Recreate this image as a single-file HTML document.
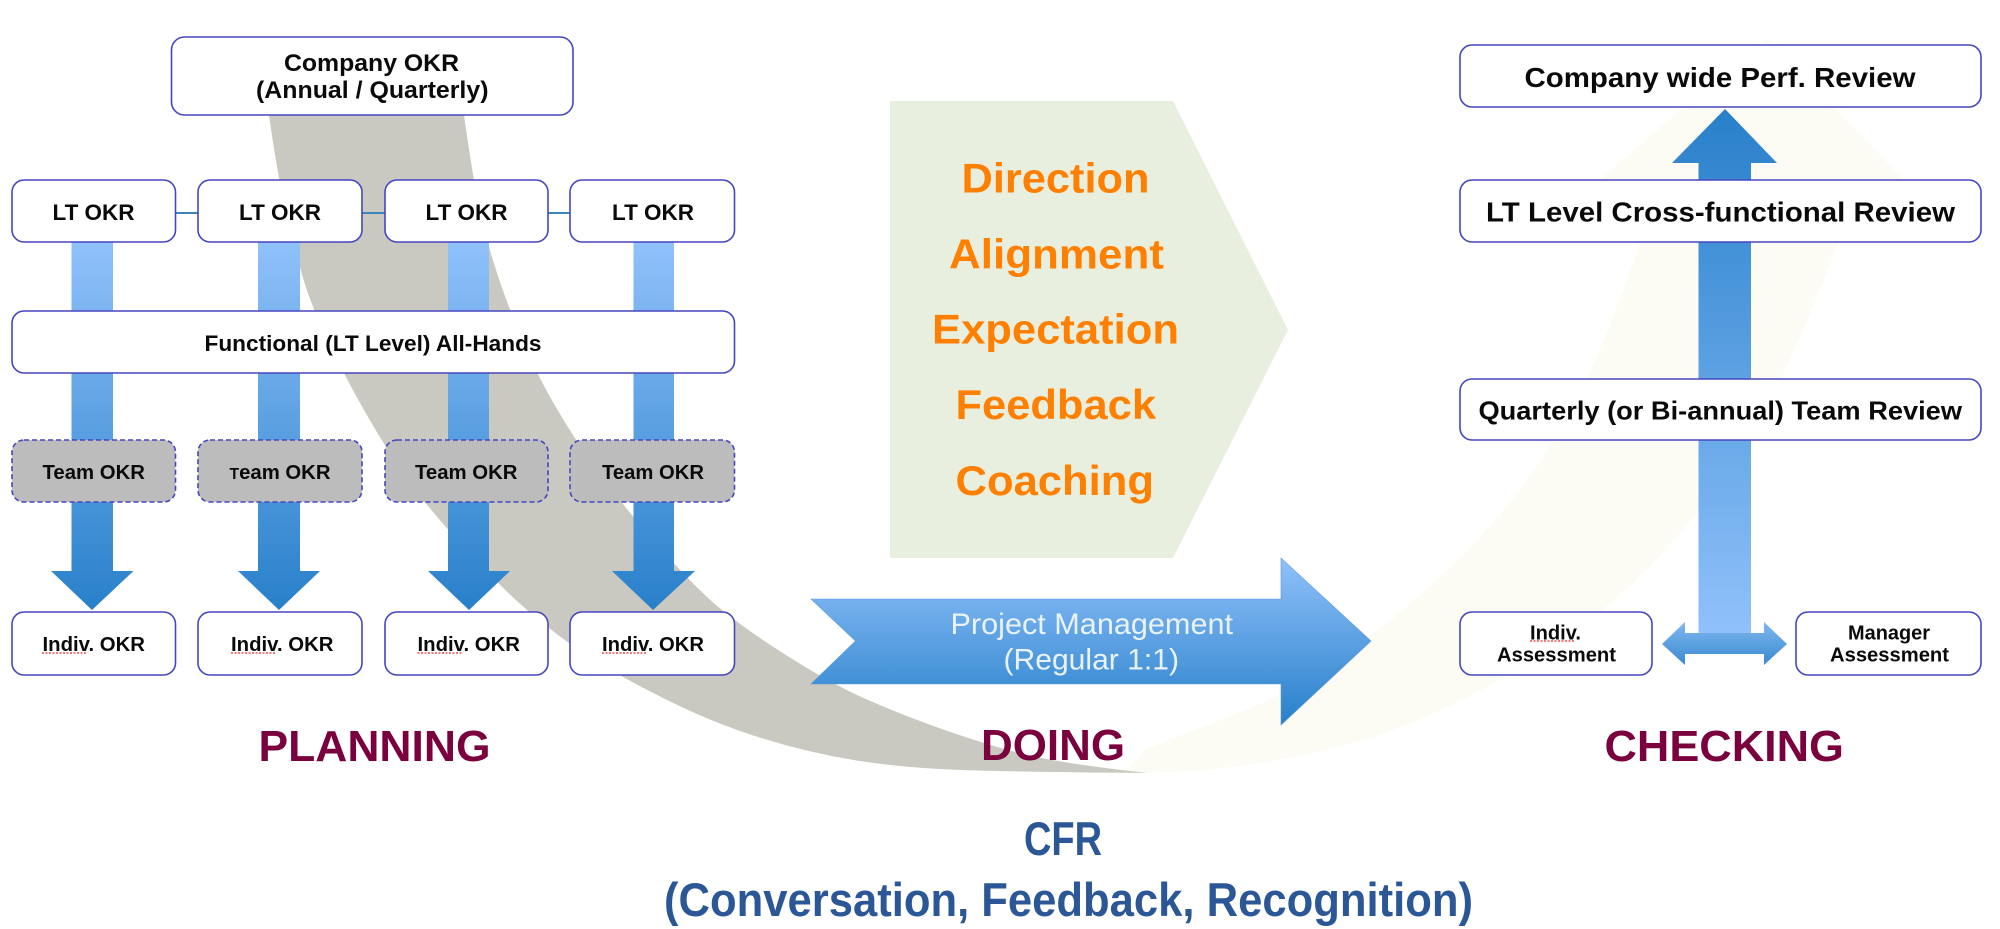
<!DOCTYPE html>
<html><head><meta charset="utf-8"><style>
html,body{margin:0;padding:0;background:#fff;width:2000px;height:929px;overflow:hidden}
svg{display:block}
text{font-family:"Liberation Sans",sans-serif;font-weight:bold;fill:#0a0a0a}
.b{fill:#fff;stroke:#4646c0;stroke-width:1.6}
.t{fill:#bcbcbc;stroke:#4646c0;stroke-width:1.6;stroke-dasharray:5 3}
.o{font-size:42px;fill:#ff8000}
.h{font-size:44px;fill:#7a003e}
.c{font-size:47px;fill:#2b5797}
.s{font-size:22px}
.m{font-size:20px}
.q{stroke:#f02828;stroke-width:1.3;stroke-dasharray:2 1.5;fill:none}
</style></head><body>
<svg width="2000" height="929" viewBox="0 0 2000 929" xmlns="http://www.w3.org/2000/svg">
<defs>
<linearGradient id="d" gradientUnits="userSpaceOnUse" x1="0" y1="242" x2="0" y2="610"><stop offset="0" stop-color="#90c1fa"/><stop offset="1" stop-color="#2880ca"/></linearGradient>
<linearGradient id="u" gradientUnits="userSpaceOnUse" x1="0" y1="109" x2="0" y2="633"><stop offset="0" stop-color="#2880ca"/><stop offset="1" stop-color="#90c1fa"/></linearGradient>
<linearGradient id="r" gradientUnits="userSpaceOnUse" x1="0" y1="558" x2="0" y2="725"><stop offset="0" stop-color="#90c1fa"/><stop offset="1" stop-color="#2880ca"/></linearGradient>
<linearGradient id="w" gradientUnits="userSpaceOnUse" x1="0" y1="622" x2="0" y2="665"><stop offset="0" stop-color="#80b8f0"/><stop offset="1" stop-color="#3a8ad0"/></linearGradient>
</defs>

<path fill="#fcfcf4" d="M1125,773 L1140,773 Q1200,772 1250,764.5 Q1300,757 1350,743.5 Q1400,730 1455,703.5 Q1510,677 1558.5,643.5 Q1607,610 1652.5,563.5 Q1698,517 1743,447 Q1788,377 1838,243 L1902,178 L1837,110 L1768,38 L1683,108 L1602,178 L1640,243 Q1593,377 1561.5,428.5 Q1530,480 1498.5,516.5 Q1467,553 1420,595 Q1373,637 1327.5,667 Q1282,697 1224.5,718.5 Q1167,740 1145,750 Z"/>
<path fill="#c9c9c1" d="M269,115 Q278,180 289,225 Q300,270 307,290.5 Q314,311 328.5,342 Q343,373 364,410 Q385,447 404,474.5 Q423,502 461.5,544.5 Q500,587 530,612.5 Q560,638 588.5,656.5 Q617,675 665,699 Q713,723 761,738 Q809,753 856.5,760.5 Q904,768 961.5,770 Q1019,772 1147,773 Q1057.5,763 1019,753 Q981,743 939,728 Q897,713 862.5,697.5 Q828,682 782,652.5 Q736,623 712,601.5 Q688,580 654,541 Q620,502 597.5,471 Q575,440 555.5,406.5 Q536,373 523,342 Q510,311 499.5,280.5 Q489,250 481,215 Q473,180 464,115 Z"/>

<polygon fill="#e9efdf" points="890,101 1173,101 1288,330 1173,558 890,558"/>

<g stroke="#3c85b8" stroke-width="2"><line x1="175" y1="213" x2="198" y2="213"/><line x1="362" y1="213" x2="385" y2="213"/><line x1="548" y1="213" x2="570" y2="213"/></g>

<g fill="url(#d)">
<polygon points="71.5,242 113,242 113,571 133.5,571 92,610 51,571 71.5,571"/>
<polygon points="258,242 300,242 300,571 320,571 279,610 238,571 258,571"/>
<polygon points="448,242 489,242 489,571 510,571 469,610 428,571 448,571"/>
<polygon points="633.5,242 674,242 674,571 695,571 653,610 612,571 633.5,571"/>
</g>

<polygon fill="url(#r)" stroke="#5a9ad8" stroke-width=".6" points="811,599 1281,599 1281,558 1371,641 1281,725 1281,684 811,684 855.5,641"/>
<polygon fill="url(#u)" points="1725,109 1777,163 1751,163 1751,633 1698.5,633 1698.5,163 1672,163"/>
<polygon fill="url(#w)" points="1662,644 1685,622 1685,633 1764,633 1764,622 1787,644 1764,665 1764,654 1685,654 1685,665"/>

<rect class="b" x="171.5" y="37" width="401.5" height="78" rx="13"/>
<rect class="b" x="12" y="180" width="163.5" height="62" rx="12"/>
<rect class="b" x="198" y="180" width="164" height="62" rx="12"/>
<rect class="b" x="385" y="180" width="163" height="62" rx="12"/>
<rect class="b" x="570" y="180" width="164.5" height="62" rx="12"/>
<rect class="b" x="12" y="311" width="722.5" height="62" rx="12"/>
<rect class="t" x="12" y="440" width="163.5" height="62" rx="12"/>
<rect class="t" x="198" y="440" width="164" height="62" rx="12"/>
<rect class="t" x="385" y="440" width="163" height="62" rx="12"/>
<rect class="t" x="570" y="440" width="164.5" height="62" rx="12"/>
<rect class="b" x="12" y="612" width="163.5" height="63" rx="12"/>
<rect class="b" x="198" y="612" width="164" height="63" rx="12"/>
<rect class="b" x="385" y="612" width="163" height="63" rx="12"/>
<rect class="b" x="570" y="612" width="164.5" height="63" rx="12"/>
<rect class="b" x="1460" y="45" width="521" height="62" rx="12"/>
<rect class="b" x="1460" y="180" width="521" height="62" rx="12"/>
<rect class="b" x="1460" y="379" width="521" height="61" rx="12"/>
<rect class="b" x="1460" y="612" width="192" height="63" rx="12"/>
<rect class="b" x="1796" y="612" width="185" height="63" rx="12"/>

<text x="284" y="71" font-size="24" textLength="175" lengthAdjust="spacingAndGlyphs">Company OKR</text>
<text x="256" y="98" font-size="24" textLength="232.5" lengthAdjust="spacingAndGlyphs">(Annual / Quarterly)</text>
<text class="s" x="52.5" y="220" textLength="82" lengthAdjust="spacingAndGlyphs">LT OKR</text>
<text class="s" x="239" y="220" textLength="82" lengthAdjust="spacingAndGlyphs">LT OKR</text>
<text class="s" x="425.5" y="220" textLength="82" lengthAdjust="spacingAndGlyphs">LT OKR</text>
<text class="s" x="612" y="220" textLength="82" lengthAdjust="spacingAndGlyphs">LT OKR</text>
<text class="s" x="204.5" y="351" textLength="337" lengthAdjust="spacingAndGlyphs">Functional (LT Level) All-Hands</text>
<text class="m" x="42.5" y="479" textLength="102.5" lengthAdjust="spacingAndGlyphs">Team OKR</text>
<text class="m" x="229.5" y="479" textLength="101" lengthAdjust="spacingAndGlyphs"><tspan font-size="15.5">T</tspan>eam OKR</text>
<text class="m" x="415" y="479" textLength="102.5" lengthAdjust="spacingAndGlyphs">Team OKR</text>
<text class="m" x="602" y="479" textLength="102" lengthAdjust="spacingAndGlyphs">Team OKR</text>
<text class="m" x="42.5" y="651" textLength="102.5" lengthAdjust="spacingAndGlyphs">Indiv. OKR</text>
<text class="m" x="231" y="651" textLength="102.5" lengthAdjust="spacingAndGlyphs">Indiv. OKR</text>
<text class="m" x="417.5" y="651" textLength="102.5" lengthAdjust="spacingAndGlyphs">Indiv. OKR</text>
<text class="m" x="602" y="651" textLength="102" lengthAdjust="spacingAndGlyphs">Indiv. OKR</text>
<line class="q" x1="42" y1="653" x2="87" y2="653"/>
<line class="q" x1="231" y1="653" x2="276" y2="653"/>
<line class="q" x1="417.5" y1="653" x2="462.5" y2="653"/>
<line class="q" x1="602" y1="653" x2="647" y2="653"/>

<text class="o" x="961.5" y="192.5" textLength="188" lengthAdjust="spacingAndGlyphs">Direction</text>
<text class="o" x="949" y="268.5" textLength="215" lengthAdjust="spacingAndGlyphs">Alignment</text>
<text class="o" x="932" y="343.5" textLength="247" lengthAdjust="spacingAndGlyphs">Expectation</text>
<text class="o" x="955.5" y="419" textLength="200.5" lengthAdjust="spacingAndGlyphs">Feedback</text>
<text class="o" x="955.5" y="495" textLength="198.5" lengthAdjust="spacingAndGlyphs">Coaching</text>

<text x="950.5" y="634" font-size="30" style="font-weight:normal;fill:#eaf3fd" textLength="282.5" lengthAdjust="spacingAndGlyphs">Project Management</text>
<text x="1003.5" y="669.5" font-size="30" style="font-weight:normal;fill:#eaf3fd" textLength="175.5" lengthAdjust="spacingAndGlyphs">(Regular 1:1)</text>

<text x="1524.5" y="87" font-size="28" textLength="391" lengthAdjust="spacingAndGlyphs">Company wide Perf. Review</text>
<text x="1486" y="221.5" font-size="28" textLength="469" lengthAdjust="spacingAndGlyphs">LT Level Cross-functional Review</text>
<text x="1478.5" y="419.5" font-size="26" textLength="483.5" lengthAdjust="spacingAndGlyphs">Quarterly (or Bi-annual) Team Review</text>
<text x="1530" y="639.5" font-size="20" textLength="51" lengthAdjust="spacingAndGlyphs">Indiv.</text>
<line class="q" x1="1530" y1="641" x2="1575" y2="641"/>
<text x="1497" y="661.5" font-size="20" textLength="119" lengthAdjust="spacingAndGlyphs">Assessment</text>
<text x="1848" y="639.5" font-size="20" textLength="82" lengthAdjust="spacingAndGlyphs">Manager</text>
<text x="1830" y="661.5" font-size="20" textLength="119" lengthAdjust="spacingAndGlyphs">Assessment</text>

<text class="h" x="258.5" y="761" textLength="232" lengthAdjust="spacingAndGlyphs">PLANNING</text>
<text class="h" x="981" y="760" textLength="144" lengthAdjust="spacingAndGlyphs">DOING</text>
<text class="h" x="1604.5" y="761" textLength="239.5" lengthAdjust="spacingAndGlyphs">CHECKING</text>

<text class="c" x="1024" y="855" textLength="78" lengthAdjust="spacingAndGlyphs">CFR</text>
<text class="c" x="664" y="916" textLength="809" lengthAdjust="spacingAndGlyphs">(Conversation, Feedback, Recognition)</text>
</svg>
</body></html>
